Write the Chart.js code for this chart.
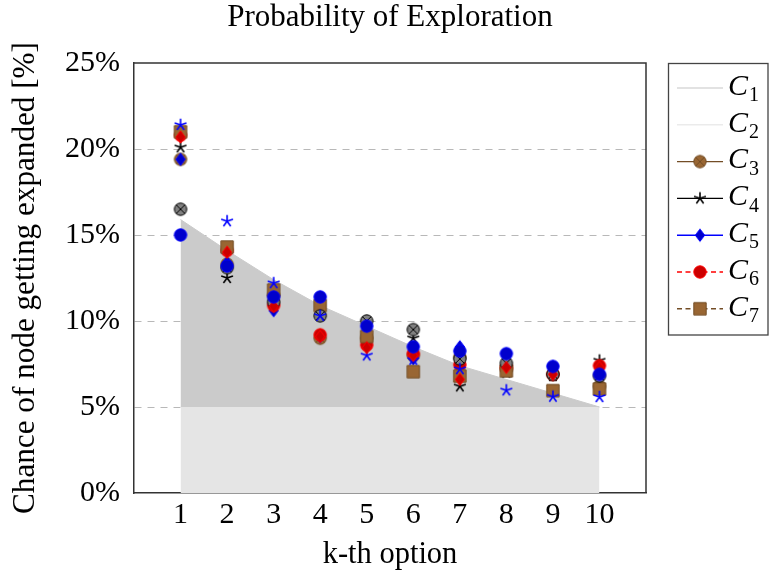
<!DOCTYPE html>
<html>
<head>
<meta charset="utf-8">
<script src="https://cdn.jsdelivr.net/npm/chart.js@4.4.1/dist/chart.umd.min.js"></script>
<style>
  html, body { margin: 0; padding: 0; background: #fff; }
</style>
</head>
<body>
<canvas id="chart" width="769" height="577"></canvas>
<script>
// k-th option on the x axis
const kOptions = [1, 2, 3, 4, 5, 6, 7, 8, 9, 10];
const yTicks = [0, 5, 10, 15, 20, 25];

// shaded bands: constant floor and the upper envelope
const c1 = [5, 5, 5, 5, 5, 5, 5, 5, 5, 5];
const c2 = [15.9, 14.1, 12.4, 10.9, 9.7, 8.5, 7.4, 6.6, 5.8, 5.0];

// measured expansion shares per configuration [%]
const c3 = [19.4, 13.3, 11.5, 9.0, 9.0, 8.0, 7.9, 7.2, 6.9, 6.2];
const c4 = [20.1, 12.5, 11.1, 10.3, 9.1, 9.0, 6.2, 7.0, 6.8, 7.7];
const c5 = [19.4, 13.4, 10.6, 9.1, 9.7, 7.8, 8.5, 8.0, 7.3, 6.9];
const c6 = [20.8, 14.1, 10.9, 9.2, 8.6, 8.1, 7.45, 7.3, 6.9, 7.4];
const c7 = [21.0, 14.3, 11.8, 10.9, 9.1, 7.05, 6.8, 7.1, 5.95, 6.05];
const c8 = [16.5, 13.1, 11.1, 10.3, 10.0, 9.5, 7.8, 7.55, 6.9, 6.8];
const c9 = [21.4, 15.8, 12.2, 10.3, 8.0, 7.75, 7.2, 5.97, 5.6, 5.58];
const c10 = [20.7, 14.0, 10.85, 9.1, 8.45, 8.0, 6.6, 7.3, 6.9, 7.3];
const c11 = [15.0, 13.2, 11.4, 11.4, 9.7, 8.5, 8.25, 8.1, 7.36, 6.9];

const chartTitle = 'Probability of Exploration';
const serif = "'Liberation Serif', 'Times New Roman', serif";

// pgfplots-like marks rendered to small canvases
function makeMark(kind, stroke, fill) {
  const r = 6.2, size = 18;
  const cv = document.createElement('canvas');
  cv.width = size;
  cv.height = size;
  const g = cv.getContext('2d');
  g.translate(size / 2, size / 2);
  g.lineWidth = 1;
  g.strokeStyle = stroke;
  g.fillStyle = fill;
  g.beginPath();
  if (kind === 'star') {
    g.lineWidth = 1.6;
    for (let a = 0; a < 5; a++) {
      const t = -Math.PI / 2 + a * 2 * Math.PI / 5;
      g.moveTo(0, 0);
      g.lineTo(r * Math.cos(t), r * Math.sin(t));
    }
    g.stroke();
    return cv;
  }
  if (kind === 'circle' || kind === 'otimes') g.arc(0, 0, r, 0, Math.PI * 2);
  else if (kind === 'square') g.rect(-r, -r, 2 * r, 2 * r);
  else if (kind === 'diamond') {
    g.moveTo(0, -r);
    g.lineTo(0.75 * r, 0);
    g.lineTo(0, r);
    g.lineTo(-0.75 * r, 0);
    g.closePath();
  }
  g.fill();
  g.stroke();
  if (kind === 'otimes') {
    const d = r * Math.SQRT1_2;
    g.beginPath();
    g.moveTo(-d, -d); g.lineTo(d, d);
    g.moveTo(d, -d); g.lineTo(-d, d);
    g.stroke();
  }
  return cv;
}

const brownLine = '#734d26', brownFill = '#996633';
const marks = {
  c3: makeMark('otimes', brownLine, brownFill),
  c4: makeMark('star', '#000000', '#000000'),
  c5: makeMark('diamond', '#0000ff', '#0000cc'),
  c6: makeMark('circle', '#ff0000', '#cc0000'),
  c7: makeMark('square', brownLine, brownFill),
  c8: makeMark('otimes', '#000000', '#808080'),
  c9: makeMark('star', '#0000ff', '#0000ff'),
  c10: makeMark('diamond', '#ff0000', '#cc0000'),
  c11: makeMark('circle', '#0000ff', '#0000cc'),
};

const pts = (arr) => kOptions.map((k, i) => ({ x: k, y: arr[i] }));

function band(label, arr, color, fill, legendColor) {
  return {
    label, data: pts(arr), showLine: true, fill,
    backgroundColor: color, borderColor: color, borderWidth: 1,
    pointRadius: 0, pointHoverRadius: 0, tension: 0,
    legend: { color: legendColor },
  };
}

function marked(label, arr, key, lineColor, dash) {
  return {
    label, data: pts(arr), showLine: false,
    pointStyle: marks[key], pointRadius: 6, pointHoverRadius: 6,
    legend: { color: lineColor, dash: dash || [], mark: marks[key] },
  };
}

const datasets = [
  band('C1', c1, '#e5e5e5', 'origin', '#d9d9d9'),
  band('C2', c2, '#cbcbcb', '-1', '#ebebeb'),
  marked('C3', c3, 'c3', brownLine),
  marked('C4', c4, 'c4', '#000000'),
  marked('C5', c5, 'c5', '#0000ff'),
  marked('C6', c6, 'c6', '#ff0000', [5, 3.5]),
  marked('C7', c7, 'c7', brownLine, [5, 3.5]),
  marked('C8', c8, 'c8', '#000000'),
  marked('C9', c9, 'c9', '#0000ff'),
  marked('C10', c10, 'c10', '#ff0000'),
  marked('C11', c11, 'c11', '#0000ff'),
];
// later series sit on top, as in the original plot
datasets.forEach((d, i) => { d.order = datasets.length - i; });

// top and right edges of the axis box, plus the title centred over the plot
const frame = {
  id: 'frame',
  afterDraw(chart) {
    const { ctx, chartArea: a } = chart;
    ctx.save();
    ctx.strokeStyle = '#333';
    ctx.lineWidth = 1.5;
    ctx.beginPath();
    ctx.moveTo(a.left, a.top);
    ctx.lineTo(a.right, a.top);
    ctx.lineTo(a.right, a.bottom);
    ctx.stroke();
    ctx.fillStyle = '#000';
    ctx.font = '31px ' + serif;
    ctx.textAlign = 'center';
    ctx.textBaseline = 'middle';
    ctx.fillText(chartTitle, (a.left + a.right) / 2, 18);
    ctx.restore();
  }
};

// legend box on the right with subscripted names
const sideLegend = {
  id: 'sideLegend',
  afterDraw(chart) {
    const { ctx } = chart;
    const left = 668.5, top = 63.5, right = 768, bottom = 335;
    ctx.save();
    ctx.fillStyle = '#fff';
    ctx.fillRect(left, top, right - left, bottom - top);
    ctx.strokeStyle = '#444';
    ctx.lineWidth = 1.3;
    ctx.strokeRect(left, top, right - left, bottom - top);
    chart.data.datasets.slice(0, 7).forEach((d, i) => {
      const y = 88 + i * 36.8;
      ctx.strokeStyle = d.legend.color;
      ctx.lineWidth = 1.4;
      ctx.setLineDash(d.legend.dash || []);
      ctx.beginPath();
      ctx.moveTo(677, y);
      ctx.lineTo(723, y);
      ctx.stroke();
      ctx.setLineDash([]);
      if (d.legend.mark) {
        const m = d.legend.mark;
        ctx.drawImage(m, 700 - m.width / 2, y - m.height / 2);
      }
      ctx.fillStyle = '#000';
      ctx.textBaseline = 'middle';
      ctx.textAlign = 'left';
      ctx.font = 'italic 30px ' + serif;
      ctx.fillText(d.label[0], 728, y - 1);
      const w = ctx.measureText(d.label[0]).width;
      ctx.font = '20px ' + serif;
      ctx.fillText(d.label.slice(1), 728 + w + 1, y + 8);
    });
    ctx.restore();
  }
};

const tickFont = { family: serif, size: 30 };

new Chart(document.getElementById('chart'), {
  type: 'scatter',
  data: { datasets },
  plugins: [frame, sideLegend],
  options: {
    responsive: false,
    animation: false,
    layout: { padding: { left: 0, right: 123, top: 63, bottom: 0 } },
    plugins: {
      legend: { display: false },
      tooltip: { enabled: false },
      title: { display: false },
    },
    scales: {
      x: {
        type: 'linear', min: 0, max: 11,
        afterBuildTicks: (s) => { s.ticks = kOptions.map((v) => ({ value: v })); },
        afterFit: (s) => { s.height = 84; },
        grid: { display: false, drawTicks: false },
        border: { color: '#333', width: 1.5 },
        ticks: { font: tickFont, color: '#000', padding: 4, maxRotation: 0, autoSkip: false },
        title: { display: true, text: 'k-th option', font: { family: serif, size: 30.5 }, color: '#000', padding: { top: 0, bottom: 4 } },
      },
      y: {
        min: 0, max: 25,
        afterBuildTicks: (s) => { s.ticks = yTicks.map((v) => ({ value: v })); },
        afterFit: (s) => { s.width = 134; },
        grid: {
          drawTicks: false,
          lineWidth: 1,
          color: (c) => (c.tick && (c.tick.value === 0 || c.tick.value === 25)) ? 'rgba(0,0,0,0)' : '#b8b8b8',
        },
        border: { color: '#333', width: 1.5, dash: [7, 6] },
        ticks: { font: tickFont, color: '#000', padding: 14, callback: (v) => v + '%' },
        title: { display: true, text: 'Chance of node getting expanded [%]', font: { family: serif, size: 31.2 }, color: '#000', padding: { top: 7, bottom: 0 } },
      },
    },
  },
});
</script>
</body>
</html>
